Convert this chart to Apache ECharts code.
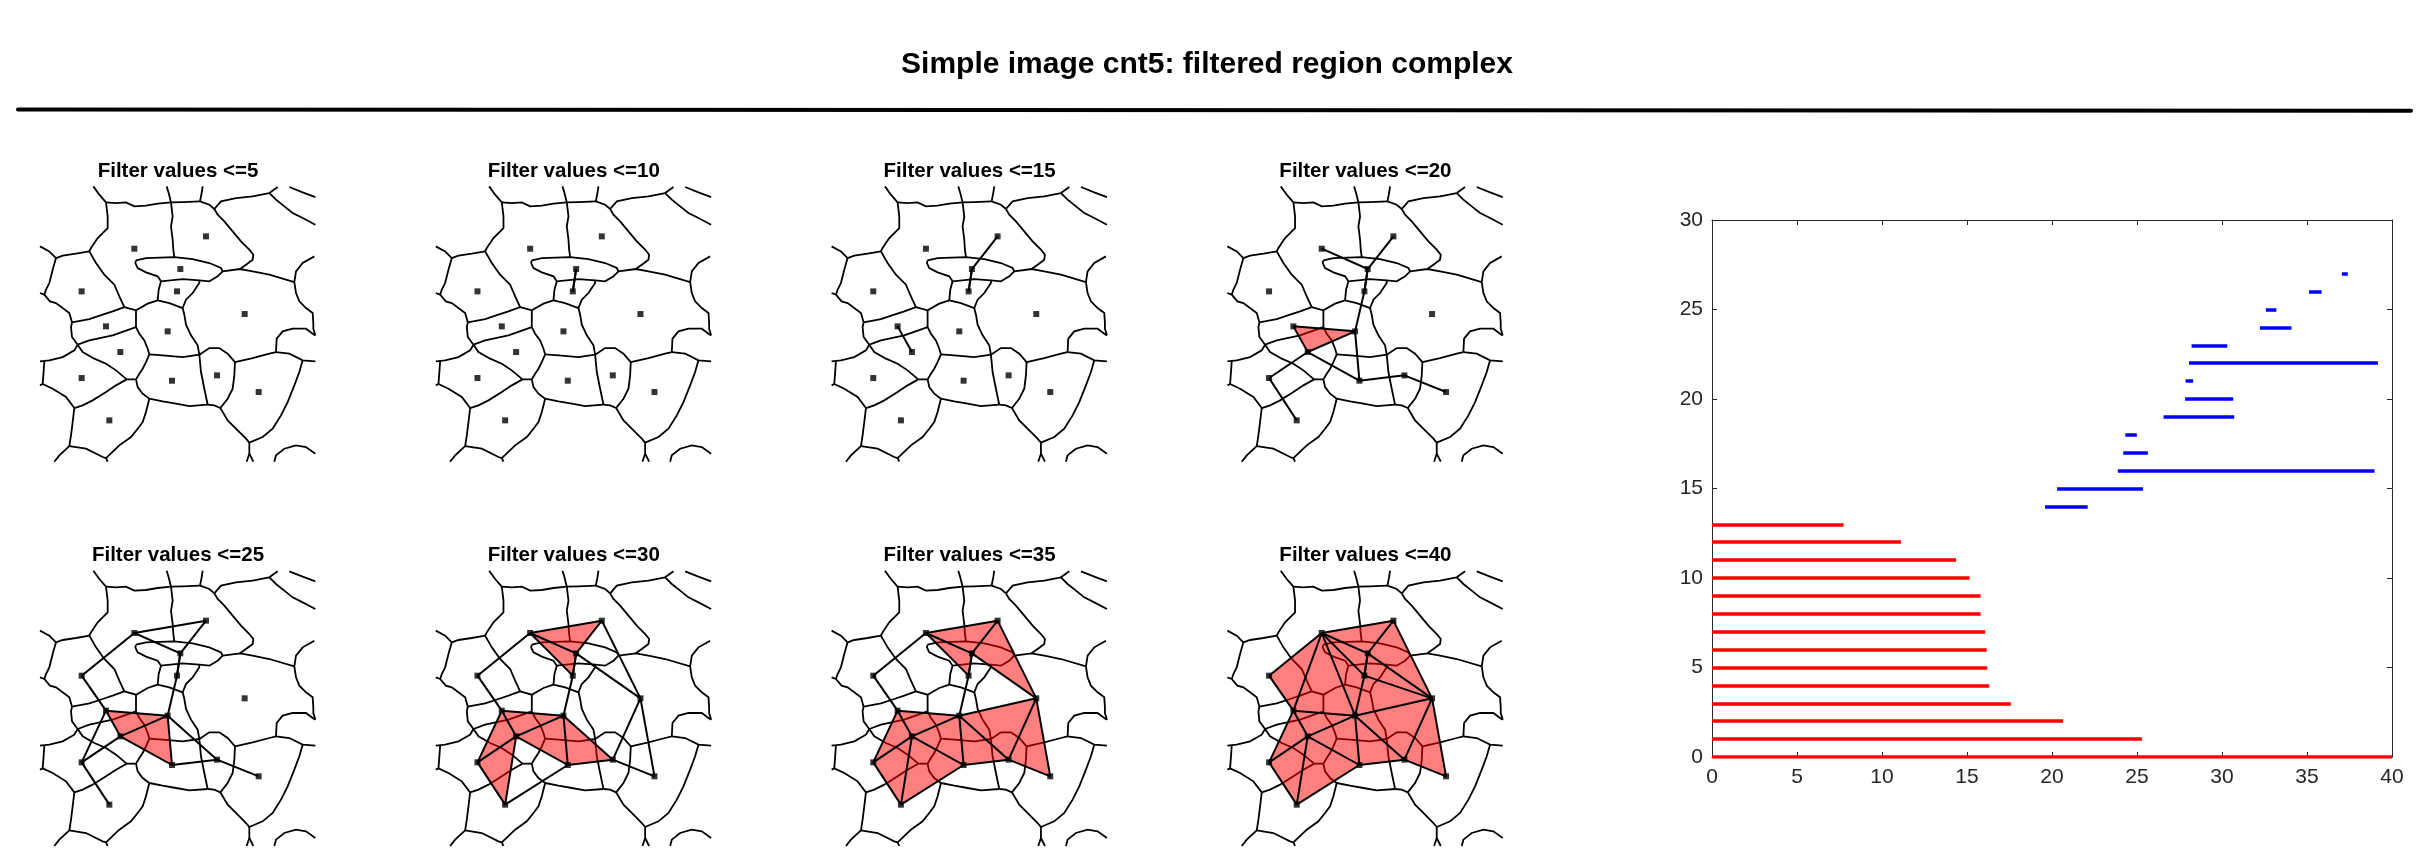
<!DOCTYPE html>
<html><head><meta charset="utf-8">
<script src="https://cdn.jsdelivr.net/npm/echarts@6/dist/echarts.min.js"></script>
<style>html,body{margin:0;padding:0;background:#fff}#c{width:2424px;height:856px}</style>
</head><body><div id="c"></div>
<script>
// ---------------- data ----------------
const mainTitle = 'Simple image cnt5: filtered region complex';
const thresholds = [5, 10, 15, 20, 25, 30, 35, 40];
const panelTitlePrefix = 'Filter values <=';

// region nodes (image coordinates of the segmented picture)
const nodeX = [403, 618, 541, 531, 245, 734, 318, 503, 361, 245, 516, 651, 776, 328];
const nodeY = [416, 379, 477, 544, 544, 612, 649, 664, 726, 804, 812, 796, 846, 931];

// edges: node a, node b, first filter level at which the edge is shown
const edgeA = [3, 2, 7, 1, 4, 7, 8, 9, 10, 9, 8, 11, 12, 1, 1, 5, 7, 8, 1, 2, 3, 6, 6, 9, 11, 6, 3, 1, 1, 4];
const edgeB = [4, 3, 9, 3, 8, 8, 9, 10, 14, 11, 11, 12, 13, 2, 5, 7, 10, 12, 4, 6, 6, 12, 13, 14, 14, 8, 4, 7, 8, 6];
const edgeT = [10, 15, 15, 20, 20, 20, 20, 20, 20, 20, 20, 20, 20, 25, 25, 25, 25, 25, 30, 30, 30, 30, 30, 30, 30, 35, 10, 40, 40, 40];

// filled triangles: nodes a, b, c and first filter level
const triA = [7, 8, 1, 1, 8, 7, 9, 2, 9, 6, 6, 3, 1, 4, 1, 1];
const triB = [8, 9, 2, 3, 11, 9, 10, 3, 11, 8, 12, 4, 4, 6, 5, 7];
const triC = [9, 11, 3, 4, 12, 10, 14, 6, 14, 12, 13, 6, 8, 8, 7, 8];
const triT = [20, 25, 30, 30, 30, 30, 30, 35, 35, 35, 35, 40, 40, 40, 40, 40];

// region (cell) boundaries of the segmented image, as polylines
const cellBoundaries = [
  [[280,229],[298,254],[318,277]],
  [[318,277],[348,279],[378,277],[403,289],[438,287],[473,281],[513,277]],
  [[513,277],[506,249],[500,229]],
  [[513,277],[548,276],[600,274]],
  [[600,274],[605,249],[608,229]],
  [[600,274],[628,284],[643,297]],
  [[643,297],[663,274],[708,264],[758,259],[808,249]],
  [[808,249],[833,231]],
  [[808,249],[828,269],[853,289],[878,309],[908,324],[946,344]],
  [[868,231],[908,247],[946,261]],
  [[643,297],[653,314],[673,334],[698,364],[723,394],[748,419],[760,434],[758,449],[738,464],[720,477]],
  [[513,277],[518,319],[513,349],[518,389],[520,419],[523,441]],
  [[318,277],[323,319],[323,354],[308,369],[293,384],[273,414],[268,424]],
  [[268,424],[228,431],[188,437],[168,444]],
  [[168,444],[148,424],[120,409]],
  [[168,444],[158,479],[148,519],[138,539],[133,554]],
  [[133,554],[120,549]],
  [[133,554],[150,574],[168,579],[208,609],[216,637]],
  [[268,424],[288,459],[313,494],[343,524],[358,559],[373,591]],
  [[373,591],[338,604],[308,614],[268,627],[216,637]],
  [[373,591],[408,601],[443,581],[473,571]],
  [[408,451],[438,444],[523,441],[578,447],[628,459],[663,474],[668,484],[653,499],[628,514],[598,511],[548,507],[483,514],[473,499],[438,487],[413,474],[406,459],[408,451]],
  [[668,484],[720,477],[758,484],[808,494],[883,516]],
  [[883,516],[888,484],[908,459],[943,439]],
  [[883,516],[888,549],[898,574],[918,594],[938,609],[940,639],[940,656],[946,676]],
  [[483,514],[476,539],[473,571]],
  [[473,571],[508,579],[548,594]],
  [[548,594],[558,569],[578,549],[598,519],[598,511]],
  [[408,601],[408,636],[408,651],[418,671],[433,691],[443,716],[448,733]],
  [[216,637],[213,651],[216,681],[233,704]],
  [[233,704],[268,691],[338,676],[408,651]],
  [[233,704],[223,721],[188,741],[148,751],[120,754]],
  [[233,704],[248,726],[283,746],[318,761],[348,781],[380,808]],
  [[448,733],[438,756],[428,776],[418,791],[408,808]],
  [[380,808],[408,808]],
  [[408,808],[413,831],[428,851],[448,866]],
  [[380,808],[348,826],[318,846],[278,871],[248,886],[223,894]],
  [[133,754],[130,796],[128,822]],
  [[120,826],[128,822]],
  [[128,822],[158,836],[198,861],[223,894]],
  [[223,894],[218,936],[213,976],[208,1008]],
  [[208,1008],[178,1036],[163,1055]],
  [[208,1008],[258,1016],[308,1041],[318,1044]],
  [[448,866],[438,906],[428,936],[413,956],[393,981],[358,1006],[318,1044]],
  [[318,1044],[323,1055]],
  [[448,733],[488,736],[548,741],[598,734]],
  [[548,594],[553,614],[558,644],[573,676],[593,706],[598,734]],
  [[598,734],[603,786],[613,836],[623,884]],
  [[448,866],[488,874],[528,881],[568,888],[623,884]],
  [[598,734],[628,714],[658,714],[683,731],[705,756]],
  [[705,756],[703,796],[698,836],[683,866],[661,894]],
  [[623,884],[643,886],[661,894]],
  [[661,894],[683,931],[713,961],[738,986],[748,998]],
  [[748,998],[748,1031],[740,1055]],
  [[748,1031],[760,1055]],
  [[705,756],[758,744],[808,731],[828,726]],
  [[828,726],[830,686],[848,664],[878,656],[918,656],[938,671],[946,676]],
  [[828,726],[868,731],[908,751],[946,754]],
  [[908,751],[898,786],[883,826],[863,876],[843,916],[818,956],[788,981],[748,998]],
  [[823,1055],[828,1036],[853,1016],[888,1006],[918,1011],[946,1031]]
];

// persistence barcode
const h0Birth = [0, 0, 0, 0, 0, 0, 0, 0, 0, 0, 0, 0, 0, 0];
const h0Death = [Infinity, 25.29, 20.65, 17.58, 16.31, 16.19, 16.16, 16.07, 15.80, 15.80, 15.15, 14.36, 11.11, 7.74];
const h1Birth = [19.59, 20.30, 23.87, 24.19, 24.31, 26.56, 27.83, 27.86, 28.06, 28.21, 32.23, 32.58, 35.12, 37.05];
const h1Death = [22.10, 25.35, 38.97, 25.64, 24.99, 30.72, 30.66, 28.30, 39.17, 30.31, 34.09, 33.20, 35.86, 37.40];
const barX = {min: 0, max: 40, step: 5};
const barY = {min: 0, max: 30, step: 5};

// ---------------- chart ----------------
const FONT = '"Liberation Sans", Arial, Helvetica, sans-serif';
const chart = echarts.init(document.getElementById('c'), null, {renderer: 'canvas'});
const grids = [], xAxes = [], yAxes = [], series = [], titles = [];

titles.push({text: mainTitle, left: 1207, top: 50, textAlign: 'center', padding: 0,
  textStyle: {fontSize: 30, fontWeight: 'bold', color: '#000', fontFamily: FONT}});

const PANEL_W = 276, PANEL_H = 275;
thresholds.forEach((t, k) => {
  const col = k % 4, row = Math.floor(k / 4);
  const left = 40 + col * 395.8, top = 186.7 + row * 384.3;
  grids.push({left: left, top: top, width: PANEL_W, height: PANEL_H, show: false});
  xAxes.push({gridIndex: k, type: 'value', min: 120, max: 948, show: false});
  yAxes.push({gridIndex: k, type: 'value', min: 230, max: 1055, inverse: true, show: false});
  titles.push({text: panelTitlePrefix + t, left: left + PANEL_W / 2, top: top - 26, textAlign: 'center', padding: 0,
    textStyle: {fontSize: 20.5, fontWeight: 'bold', color: '#000', fontFamily: FONT}});

  series.push({type: 'lines', coordinateSystem: 'cartesian2d', xAxisIndex: k, yAxisIndex: k,
    polyline: true, silent: true, z: 1, animation: false,
    lineStyle: {color: '#000', width: 1.8, opacity: 1},
    data: cellBoundaries.map(c => ({coords: c}))});

  const tris = [];
  triA.forEach((a, i) => {
    if (triT[i] <= t) {
      const b = triB[i], c = triC[i];
      tris.push([nodeX[a-1], nodeY[a-1], nodeX[b-1], nodeY[b-1], nodeX[c-1], nodeY[c-1]]);
    }
  });
  series.push({type: 'custom', coordinateSystem: 'cartesian2d', xAxisIndex: k, yAxisIndex: k,
    silent: true, z: 2, animation: false, data: tris,
    renderItem: (p, api) => ({
      type: 'polygon',
      shape: {points: [api.coord([api.value(0), api.value(1)]), api.coord([api.value(2), api.value(3)]), api.coord([api.value(4), api.value(5)])]},
      style: {fill: 'rgba(255,0,0,0.5)', stroke: null}
    })});

  const edges = [];
  edgeA.forEach((a, i) => {
    if (edgeT[i] <= t) {
      const b = edgeB[i];
      edges.push({coords: [[nodeX[a-1], nodeY[a-1]], [nodeX[b-1], nodeY[b-1]]]});
    }
  });
  series.push({type: 'lines', coordinateSystem: 'cartesian2d', xAxisIndex: k, yAxisIndex: k,
    silent: true, z: 3, animation: false,
    lineStyle: {color: '#000', width: 2, opacity: 1}, data: edges});

  series.push({type: 'scatter', xAxisIndex: k, yAxisIndex: k, silent: true, z: 4, animation: false,
    symbol: 'rect', symbolSize: 6, itemStyle: {color: '#000'},
    data: nodeX.map((x, i) => [x, nodeY[i]])});
});

// barcode plot
const BG = 8;
grids.push({left: 1712, top: 220, width: 680, height: 537, show: false});
const axisCol = '#262626';
const lab = {color: axisCol, fontSize: 21, fontFamily: FONT};
xAxes.push({gridIndex: BG, type: 'value', position: 'bottom', min: barX.min, max: barX.max, interval: barX.step,
  axisLine: {show: true, onZero: false, lineStyle: {color: axisCol, width: 1}},
  axisTick: {show: true, inside: true, length: 5, lineStyle: {color: axisCol}},
  axisLabel: Object.assign({margin: 10}, lab), splitLine: {show: false}});
xAxes.push({gridIndex: BG, type: 'value', position: 'top', min: barX.min, max: barX.max, interval: barX.step,
  axisLine: {show: true, onZero: false, lineStyle: {color: axisCol, width: 1}},
  axisTick: {show: true, inside: true, length: 5, lineStyle: {color: axisCol}},
  axisLabel: {show: false}, splitLine: {show: false}});
yAxes.push({gridIndex: BG, type: 'value', position: 'left', min: barY.min, max: barY.max, interval: barY.step,
  axisLine: {show: true, onZero: false, lineStyle: {color: axisCol, width: 1}},
  axisTick: {show: true, inside: true, length: 5, lineStyle: {color: axisCol}},
  axisLabel: Object.assign({margin: 9}, lab), splitLine: {show: false}});
yAxes.push({gridIndex: BG, type: 'value', position: 'right', min: barY.min, max: barY.max, interval: barY.step,
  axisLine: {show: true, onZero: false, lineStyle: {color: axisCol, width: 1}},
  axisTick: {show: true, inside: true, length: 5, lineStyle: {color: axisCol}},
  axisLabel: {show: false}, splitLine: {show: false}});

series.push({type: 'lines', coordinateSystem: 'cartesian2d', xAxisIndex: BG, yAxisIndex: BG,
  silent: true, z: 5, animation: false,
  lineStyle: {color: '#ff0000', width: 3.5, opacity: 1},
  data: h0Death.map((d, i) => ({coords: [[h0Birth[i], i], [Math.min(d, barX.max), i]]}))});
series.push({type: 'lines', coordinateSystem: 'cartesian2d', xAxisIndex: BG, yAxisIndex: BG,
  silent: true, z: 5, animation: false,
  lineStyle: {color: '#0000ff', width: 3.5, opacity: 1},
  data: h1Birth.map((b, i) => ({coords: [[b, h0Death.length + i], [h1Death[i], h0Death.length + i]]}))});

chart.setOption({
  backgroundColor: '#fff',
  animation: false,
  title: titles,
  grid: grids,
  xAxis: xAxes,
  yAxis: yAxes,
  series: series,
  graphic: [{type: 'line', silent: true, shape: {x1: 18, y1: 109.5, x2: 2411, y2: 110.8},
    style: {stroke: '#000', lineWidth: 4, lineCap: 'round'}}]
});
</script></body></html>
